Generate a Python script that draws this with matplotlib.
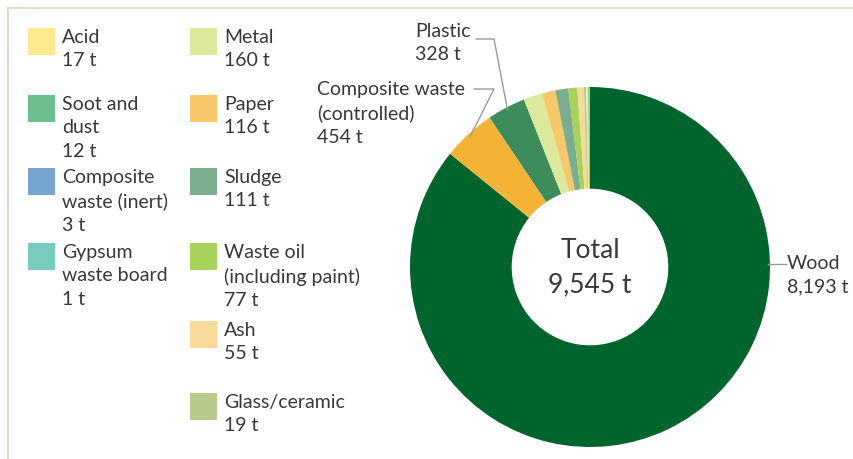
import matplotlib
matplotlib.use("Agg")
import matplotlib.pyplot as plt
import numpy as np
from matplotlib.lines import Line2D
from matplotlib.patches import Rectangle

plt.rcParams['font.family'] = ['Lato', 'DejaVu Sans']

# ---- data ----
categories = ["Wood", "Composite waste (controlled)", "Plastic", "Metal", "Paper",
              "Sludge", "Waste oil (including paint)", "Ash", "Glass/ceramic",
              "Acid", "Soot and dust", "Composite waste (inert)", "Gypsum waste board"]
values = [8193, 454, 328, 160, 116, 111, 77, 55, 19, 17, 12, 3, 1]
colors = ["#00652d", "#f5b335", "#3d8c5c", "#dce89b", "#f8c76a",
          "#7aae8e", "#a8d25a", "#f9d999", "#b6cb8d",
          "#fde98e", "#6dbf8f", "#74a4cf", "#78ccbd"]
total_label = "9,545 t"

# legend layout: (category, text, column, row-top pixel)
legend_items = [
    ("Acid", "Acid\n17 t", 0, 29),
    ("Soot and dust", "Soot and\ndust\n12 t", 0, 96),
    ("Composite waste (inert)", "Composite\nwaste (inert)\n3 t", 0, 169),
    ("Gypsum waste board", "Gypsum\nwaste board\n1 t", 0, 244),
    ("Metal", "Metal\n160 t", 1, 29),
    ("Paper", "Paper\n116 t", 1, 96),
    ("Sludge", "Sludge\n111 t", 1, 169),
    ("Waste oil (including paint)", "Waste oil\n(including paint)\n77 t", 1, 244),
    ("Ash", "Ash\n55 t", 1, 322),
    ("Glass/ceramic", "Glass/ceramic\n19 t", 1, 394),
]

W, H = 854, 460
TXT = "#383838"
fig = plt.figure(figsize=(W / 100, H / 100), dpi=100)
fig.patch.set_facecolor("white")

def fx(px):
    return px / W

def fy(py):
    return 1 - py / H

# frame lines
fig.add_artist(Line2D([fx(8), 1.0], [fy(9), fy(9)], color="#ddd3c4", lw=1.2))
fig.add_artist(Line2D([fx(8), fx(8)], [fy(9), 0.0], color="#ddd3c4", lw=1.2))

# donut
cx, cy, R = 590, 268, 180
ax = fig.add_axes([fx(cx - R), (H - cy - R) / H, 2 * R / W, 2 * R / H])
wedges, _ = ax.pie(values, colors=colors, startangle=90, counterclock=False,
                   radius=1.0, wedgeprops=dict(width=0.565, linewidth=0))
ax.set_xlim(-1, 1)
ax.set_ylim(-1, 1)
ax.set_aspect("equal")
ax.axis("off")

ax.text(0, 0.10, "Total", ha="center", va="center", fontsize=19, color=TXT)
ax.text(0, -0.095, total_label, ha="center", va="center", fontsize=19, color=TXT)

# leader lines to labels
def px2d(px, py):
    return (px - cx) / R, (cy - py) / R

def wedge_point(i, r=0.985):
    w = wedges[i]
    a = np.deg2rad((w.theta1 + w.theta2) / 2)
    return r * np.cos(a), r * np.sin(a)

lc = "#9a9a9a"
# Composite waste (controlled)
p0 = px2d(474, 90); p1 = px2d(494, 90); p2 = wedge_point(1)
ax.plot([p0[0], p1[0], p2[0]], [p0[1], p1[1], p2[1]], color=lc, lw=1, clip_on=False)
# Plastic
p0 = px2d(476, 40); p1 = px2d(494, 40); p2 = wedge_point(2)
ax.plot([p0[0], p1[0], p2[0]], [p0[1], p1[1], p2[1]], color=lc, lw=1, clip_on=False)
# Wood
p0 = px2d(768, 265); p1 = px2d(786, 265)
ax.plot([p0[0], p1[0]], [p0[1], p1[1]], color=lc, lw=1, clip_on=False)

fs = 14
ls = 1.45
fig.text(fx(317), fy(81), "Composite waste\n(controlled)\n" + f"{values[1]} t",
         ha="left", va="top", fontsize=fs, color=TXT, linespacing=ls)
fig.text(fx(415), fy(23), "Plastic\n" + f"{values[2]} t",
         ha="left", va="top", fontsize=fs, color=TXT, linespacing=ls)
fig.text(fx(787), fy(255), "Wood\n" + f"{values[0]:,} t",
         ha="left", va="top", fontsize=fs, color=TXT, linespacing=ls)

# legend
col_sq_x = [28, 190]
col_tx_x = [62, 224]
sq = 27
for cat, txt, col, top in legend_items:
    c = colors[categories.index(cat)]
    fig.add_artist(Rectangle((fx(col_sq_x[col]), fy(top + sq)), sq / W, sq / H,
                             facecolor=c, edgecolor="none"))
    fig.text(fx(col_tx_x[col]), fy(top), txt, ha="left", va="top",
             fontsize=fs, color=TXT, linespacing=ls)

fig.savefig("out.png", dpi=100, facecolor="white")
